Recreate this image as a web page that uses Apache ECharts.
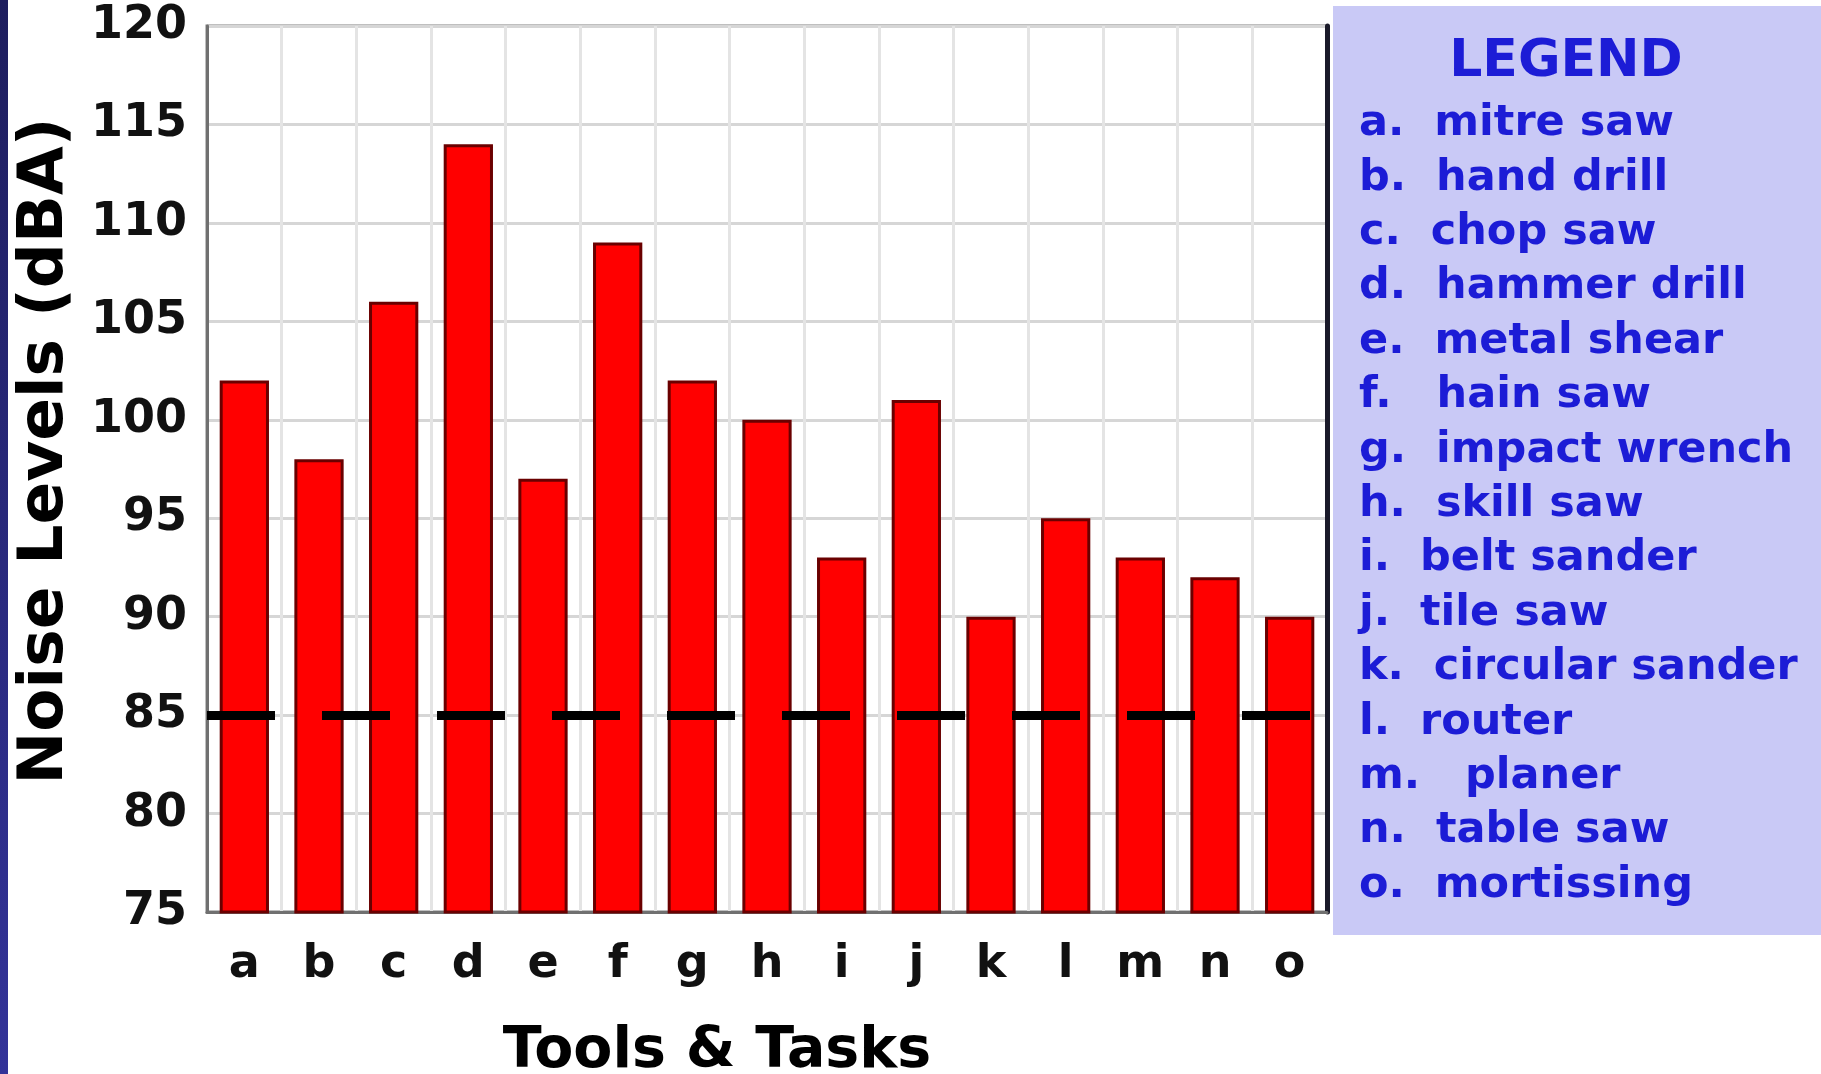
<!DOCTYPE html>
<html>
<head>
<meta charset="utf-8">
<script src="https://cdn.jsdelivr.net/npm/echarts@6/dist/echarts.min.js"></script>
<style>
  html, body { margin: 0; padding: 0; background: #fff; }
  #chart { width: 1821px; height: 1074px; }
</style>
</head>
<body>
<div id="chart"></div>
<script>
var categories = ['a', 'b', 'c', 'd', 'e', 'f', 'g', 'h', 'i', 'j', 'k', 'l', 'm', 'n', 'o'];
var noiseLevels = [102, 98, 106, 114, 97, 109, 102, 100, 93, 101, 90, 95, 93, 92, 90];
var toolNames = ['mitre saw', 'hand drill', 'chop saw', 'hammer drill', 'metal shear', ' hain saw',
  'impact wrench', 'skill saw', 'belt sander', 'tile saw', 'circular sander', 'router',
  ' planer', 'table saw', 'mortissing'];
var safeLimit = 85;

var myChart = echarts.init(document.getElementById('chart'));

// legend box on the right, built from the tool list
var legendTexts = [{
  type: 'text', x: 1566, y: 62, z: 5,
  style: { text: 'LEGEND', fill: '#1c1cd6', font: 'bold 52px "DejaVu Sans"',
    align: 'center', verticalAlign: 'middle' }
}];
toolNames.forEach(function (name, i) {
  legendTexts.push({
    type: 'text', x: 1359, y: 124 + i * 54.4, z: 5,
    style: { text: categories[i] + '.  ' + name, fill: '#1c1cd6',
      font: 'bold 43px "DejaVu Sans"', verticalAlign: 'middle' }
  });
});

var option = {
  backgroundColor: '#ffffff',
  animation: false,
  textStyle: { fontFamily: 'DejaVu Sans' },
  grid: {
    left: 207, right: 494, top: 26, bottom: 162,
    outerBoundsMode: 'none',
    show: true, borderColor: '#808080', borderWidth: 3
  },
  xAxis: {
    type: 'category',
    data: categories,
    name: 'Tools & Tasks',
    nameLocation: 'middle',
    nameGap: 112,
    nameTextStyle: { fontSize: 57, fontWeight: 'bold', color: '#000', padding: [0, 100, 0, 0] },
    axisLine: { lineStyle: { color: '#707070', width: 3 } },
    axisTick: { show: false },
    axisLabel: { fontSize: 46, fontWeight: 'bold', color: '#111', margin: 30 },
    splitLine: { show: true, lineStyle: { color: '#e4e4e4', width: 3 } }
  },
  yAxis: [{
    type: 'value',
    min: 75, max: 120, interval: 5,
    name: 'Noise Levels (dBA)',
    nameLocation: 'middle',
    nameGap: 130,
    nameTextStyle: { fontSize: 63, fontWeight: 'bold', color: '#000', padding: [0, 0, 0, 36] },
    axisLine: { show: true, lineStyle: { color: '#707070', width: 3 } },
    axisTick: { show: false },
    axisLabel: { fontSize: 46, fontWeight: 'bold', color: '#111', margin: 20 },
    splitLine: { lineStyle: { color: '#d6d6d6', width: 3 } }
  }, {
    type: 'value',
    min: 75, max: 120, interval: 5,
    position: 'right',
    axisLine: { show: true, lineStyle: { color: '#1a1a2a', width: 5 } },
    axisTick: { show: false },
    axisLabel: { show: false },
    splitLine: { show: false }
  }],
  series: [{
    name: 'Noise Levels',
    type: 'bar',
    data: noiseLevels,
    barWidth: '66%',
    itemStyle: { color: '#ff0000', borderColor: '#6a0000', borderWidth: 3 },
    markLine: {
      silent: true,
      symbol: 'none',
      label: { show: false },
      lineStyle: { color: '#000', width: 9, type: [68, 47], opacity: 1 },
      data: [{ yAxis: safeLimit }]
    }
  }],
  graphic: [
    {
      type: 'rect', x: 0, y: 0, z: 10,
      shape: { width: 8, height: 1074 },
      style: { fill: new echarts.graphic.LinearGradient(0, 0, 0, 1, [
        { offset: 0, color: '#1e1e5e' }, { offset: 1, color: '#333399' }]) }
    },
    {
      type: 'rect', x: 1333, y: 6, z: 1,
      shape: { width: 488, height: 929 },
      style: { fill: '#c9c9f6' }
    }
  ].concat(legendTexts)
};

myChart.setOption(option);
</script>
</body>
</html>
